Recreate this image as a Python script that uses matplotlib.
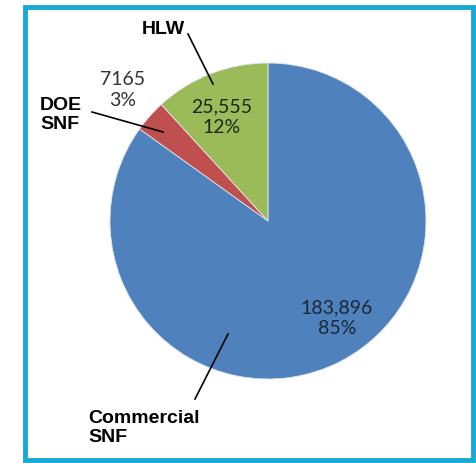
import matplotlib.pyplot as plt
from matplotlib.patches import Rectangle

labels = ['Commercial\nSNF', 'DOE\nSNF', 'HLW']
values = [183896, 7165, 25555]
value_text = ['183,896', '7165', '25,555']
pct_text = ['85%', '3%', '12%']
colors = ['#4F81BD', '#C0504D', '#9BBB59']

W, H = 477, 464
fig = plt.figure(figsize=(W / 100, H / 100), dpi=100)
ax = fig.add_axes([0, 0, 1, 1])

# pie, centre/radius in pixel units (y up)
cx, cy, r = 268, H - 222, 158
ax.pie(values, colors=colors, startangle=90, counterclock=False,
       center=(cx, cy), radius=r, frame=True,
       wedgeprops=dict(edgecolor='#dde6f0', linewidth=0.6))
ax.set_xlim(0, W)
ax.set_ylim(0, H)
ax.set_aspect('equal')
ax.axis('off')

# frame
border = '#17A9D5'
ax.add_patch(Rectangle((25.5, 3), 448, H - 11, fill=False, edgecolor=border,
                       linewidth=3.5, clip_on=False))

vfont = dict(family='Lato', fontsize=14, ha='center', va='center', linespacing=1.25)
# value labels
ax.text(337, H - 318, value_text[0] + '\n' + pct_text[0], color='#1c2838', **vfont)
ax.text(222, H - 117, value_text[2] + '\n' + pct_text[2], color='#1c261a', **vfont)
ax.text(123, H - 90, value_text[1] + '\n' + pct_text[1], color='#333333', **vfont)

# category labels
cfont = dict(family='Liberation Sans', fontsize=14, fontweight='bold',
             color='black', va='center', linespacing=1.2)
ax.text(163, H - 30, labels[2], ha='center', **cfont)
ax.text(40, H - 115, labels[1], ha='left', **cfont)
ax.text(88, H - 428, labels[0], ha='left', **cfont)

# leader lines
ax.plot([188, 213], [H - 35, H - 85], color='black', lw=1.2)
ax.plot([92, 163], [H - 113, H - 133], color='black', lw=1.2)
ax.plot([228, 195], [H - 335, H - 400], color='black', lw=1.2)

fig.savefig('out.png', dpi=100)
